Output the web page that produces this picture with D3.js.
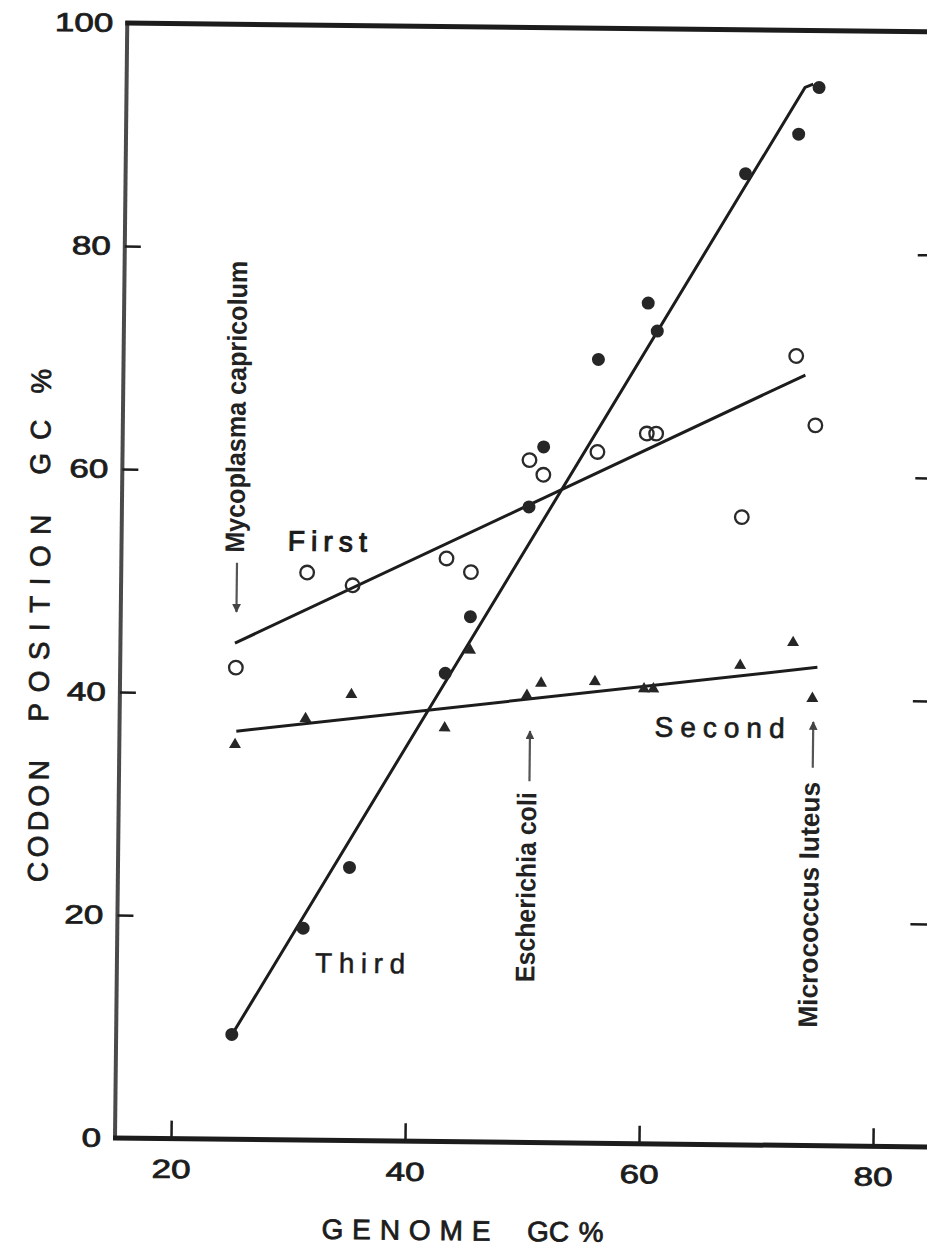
<!DOCTYPE html>
<html>
<head>
<meta charset="utf-8">
<script src="https://cdn.jsdelivr.net/npm/d3@7"></script>
<style>
  html, body { margin: 0; padding: 0; background: #fff; }
  svg { display: block; }
</style>
</head>
<body>
<svg id="chart" width="927" height="1248"></svg>
<script>
// Genome GC content of each organism and GC content at each codon position
const genomeGC  = [25.1, 31.1, 35.0, 43.0, 45.1, 50.0, 51.2, 55.8, 60.0, 60.8, 68.2, 72.7, 74.4];
const firstPos  = [42.3, 50.9, 49.8, 52.3, 51.1, 61.2, 59.9, 62.0, 63.7, 63.7, 56.3, 70.8, 64.6];
const secondPos = [35.4, 37.8, 40.0, 37.1, 44.1, 40.1, 41.2, 41.4, 40.8, 40.8, 43.0, 45.1, 40.1];
const thirdPos  = [9.4, 19.0, 24.5, 42.0, 47.1, 57.0, 62.4, 70.3, 75.4, 72.9, 87.1, 90.7, 94.9];

// Regression lines: genome GC at both ends, codon-position GC at both ends
const firstFitX  = [25.0, 73.5],  firstFitY  = [44.5, 69.1];
const secondFitX = [25.2, 74.8],  secondFitY = [36.6, 42.9];
const thirdFitX  = [25.35, 73.2, 73.9], thirdFitY  = [9.8, 94.9, 95.2];

const xTicks = [20, 40, 60, 80];
const yTicks = [0, 20, 40, 60, 80, 100];

// Reference organisms marked with arrows
const species   = ["Mycoplasma capricolum", "Escherichia coli", "Micrococcus luteus"];
const speciesGC = [25.1, 50.3, 74.5];

// ---- layout ----
const frameLeft = 115, frameRight = 932, frameTop = 23, frameBottom = 1138;
const ink = "#1c1c1c";
const font = "'Liberation Sans', Arial, sans-serif";

const x = d3.scaleLinear().domain([20, 80]).range([171, 873]);
const y = d3.scaleLinear().domain([0, 100]).range([frameBottom, frameTop]);

const svg = d3.select("#chart");
svg.append("rect").attr("width", 927).attr("height", 1248).attr("fill", "#fff");

// the printed figure sits slightly tilted on the page
const g = svg.append("g").attr("transform", `rotate(0.63, ${frameLeft}, ${frameBottom})`);

// ---- frame ----
g.append("line").attr("x1", frameLeft).attr("x2", frameLeft)
  .attr("y1", frameBottom + 2).attr("y2", frameTop - 2)
  .attr("stroke", "#4a4a4a").attr("stroke-width", 4);
g.append("line").attr("x1", frameLeft - 2).attr("x2", frameRight)
  .attr("y1", frameTop).attr("y2", frameTop)
  .attr("stroke", ink).attr("stroke-width", 5);
g.append("line").attr("x1", frameLeft - 2).attr("x2", frameRight)
  .attr("y1", frameBottom).attr("y2", frameBottom)
  .attr("stroke", ink).attr("stroke-width", 5);

// ---- axes ----
function styleTicks(sel) {
  sel.select(".domain").remove();
  sel.selectAll(".tick line").attr("stroke", ink).attr("stroke-width", 2.5);
  sel.selectAll(".tick text")
    .attr("fill", ink)
    .attr("stroke", ink).attr("stroke-width", 0.8)
    .style("font-family", font)
    .style("font-size", "26px")
    .attr("textLength", d => String(d).length * 19.5)
    .attr("lengthAdjust", "spacingAndGlyphs");
}

const yAxis = g.append("g").attr("transform", `translate(${frameLeft},0)`)
  .call(d3.axisLeft(y).tickValues(yTicks).tickSize(-16).tickPadding(14));
styleTicks(yAxis);
yAxis.selectAll(".tick").filter(d => d === 0 || d === 100).select("line").remove();

const yAxisRight = g.append("g").attr("transform", `translate(${frameRight},0)`)
  .call(d3.axisRight(y).tickValues(yTicks.filter(d => d > 0 && d < 100)).tickSize(-24).tickFormat(""));
yAxisRight.select(".domain").remove();
yAxisRight.selectAll(".tick line").attr("stroke", ink).attr("stroke-width", 2.5);

const xAxis = g.append("g").attr("transform", `translate(0,${frameBottom})`)
  .call(d3.axisBottom(x).tickValues(xTicks).tickSize(-18).tickPadding(21));
styleTicks(xAxis);

// ---- axis titles ----
function spacedWord(parent, text, cx, cy, len, rotate) {
  parent.append("text")
    .attr("transform", `translate(${cx},${cy})` + (rotate ? " rotate(-90)" : ""))
    .attr("text-anchor", "middle")
    .attr("dominant-baseline", "central")
    .attr("textLength", len)
    .attr("lengthAdjust", "spacing")
    .attr("fill", ink).attr("stroke", ink).attr("stroke-width", 0.8)
    .style("font-family", font)
    .style("font-size", "28px")
    .text(text);
}
spacedWord(g, "CODON", 35, 822, 122, true);
spacedWord(g, "POSITION", 34, 619, 207, true);
spacedWord(g, "GC", 33, 448, 55, true);
spacedWord(g, "%", 33, 382, 22, true);

spacedWord(g, "GENOME", 407, 1227, 169, false);
spacedWord(g, "GC", 549, 1227, 42, false);
spacedWord(g, "%", 592, 1227, 20, false);

// ---- regression lines ----
const line = d3.line().x(d => x(d[0])).y(d => y(d[1]));
[[firstFitX, firstFitY], [secondFitX, secondFitY], [thirdFitX, thirdFitY]].forEach(([fx, fy]) => {
  g.append("path")
    .attr("d", line(d3.zip(fx, fy)))
    .attr("fill", "none").attr("stroke", ink).attr("stroke-width", 3);
});

// ---- points ----
const firstPts  = d3.zip(genomeGC, firstPos);
const secondPts = d3.zip(genomeGC, secondPos);
const thirdPts  = d3.zip(genomeGC, thirdPos);

g.append("g").selectAll("circle").data(thirdPts).join("circle")
  .attr("cx", d => x(d[0])).attr("cy", d => y(d[1])).attr("r", 6.5)
  .attr("fill", "#262626");

g.append("g").selectAll("circle").data(firstPts).join("circle")
  .attr("cx", d => x(d[0])).attr("cy", d => y(d[1])).attr("r", 6.8)
  .attr("fill", "none").attr("stroke", "#2a2a2a").attr("stroke-width", 2.3);

const tri = d3.symbol().type(d3.symbolTriangle).size(62);
g.append("g").selectAll("path").data(secondPts).join("path")
  .attr("transform", d => `translate(${x(d[0])},${y(d[1])})`)
  .attr("d", tri).attr("fill", "#262626");

// ---- series labels ----
function seriesLabel(text, gx, gy, len, weight) {
  g.append("text")
    .attr("x", x(gx)).attr("y", y(gy))
    .attr("text-anchor", "middle")
    .attr("dominant-baseline", "central")
    .attr("textLength", len).attr("lengthAdjust", "spacing")
    .attr("fill", ink).attr("stroke", ink).attr("stroke-width", weight)
    .style("font-family", font).style("font-size", "28px")
    .text(text);
}
seriesLabel("First", 32.8, 53.7, 79, 1.1);
seriesLabel("Second", 66.5, 37.4, 130, 0.7);
seriesLabel("Third", 36.0, 15.9, 90, 0.5);

// ---- organism markers ----
const defs = svg.append("defs");
defs.append("marker").attr("id", "head")
  .attr("viewBox", "0 0 10 10").attr("refX", 9).attr("refY", 5)
  .attr("markerWidth", 4).attr("markerHeight", 4)
  .attr("orient", "auto-start-reverse")
  .append("path").attr("d", "M0,0 L10,5 L0,10 Z").attr("fill", "#444");

// text centre (codon GC), text length, arrow tail and head (codon GC)
const speciesTextY = [65.7, 22.9, 21.6];
const speciesLen   = [292, 190, 246];
const arrowTail    = [51.7, 32.4, 33.9];
const arrowHead    = [47.3, 36.9, 38.0];

species.forEach((name, i) => {
  const cx = x(speciesGC[i]);
  g.append("text")
    .attr("transform", `translate(${cx - 2},${y(speciesTextY[i])}) rotate(-90)`)
    .attr("text-anchor", "middle")
    .attr("dominant-baseline", "central")
    .attr("textLength", speciesLen[i]).attr("lengthAdjust", "spacingAndGlyphs")
    .attr("fill", "#222")
    .style("font-family", "'Liberation Sans Narrow', 'Liberation Sans', Arial, sans-serif")
    .style("font-weight", "bold")
    .style("font-size", "27px")
    .text(name);
  g.append("line")
    .attr("x1", cx).attr("x2", cx)
    .attr("y1", y(arrowTail[i])).attr("y2", y(arrowHead[i]))
    .attr("stroke", "#555").attr("stroke-width", 2.2)
    .attr("marker-end", "url(#head)");
});
</script>
</body>
</html>
